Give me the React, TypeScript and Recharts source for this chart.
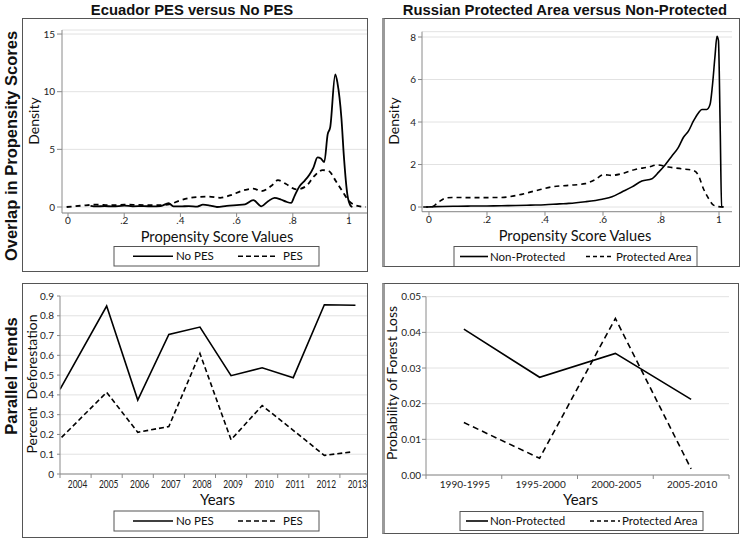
import React from "react";
import { LineChart, Line, XAxis, YAxis, CartesianGrid } from "recharts";

const FONT = "Lato, 'Open Sans', sans-serif";
const TITLE_FONT = "'Liberation Sans', Arial, sans-serif";

// ---------- Ecuador: propensity score densities ----------
const ecuadorNoPesScore = [0.08, 0.1, 0.13, 0.16, 0.2, 0.23, 0.27, 0.3, 0.33, 0.358, 0.375, 0.4, 0.43, 0.46, 0.48, 0.506, 0.53, 0.565, 0.6, 0.63, 0.659, 0.688, 0.712, 0.735, 0.759, 0.776, 0.794, 0.806, 0.824, 0.841, 0.859, 0.873, 0.888, 0.9, 0.912, 0.924, 0.933, 0.951, 0.959, 0.973, 0.982, 0.994, 1.006, 1.012];
const ecuadorNoPesDensity = [0.1, 0.05, 0.08, 0.05, 0.12, 0.06, 0.08, 0.05, 0.08, 0.33, 0.06, 0.05, 0.08, 0.04, 0.2, 0.12, 0.0, 0.1, 0.17, 0.23, 0.6, 0.06, 0.5, 0.8, 0.63, 0.46, 0.35, 0.95, 1.8, 2.25, 2.8, 3.4, 4.3, 4.2, 3.9, 6.3, 6.9, 11.5, 10.75, 7.7, 4.3, 1.1, 0.1, 0];
const ecuadorPesScore = [-0.005, 0.05, 0.1, 0.15, 0.2, 0.25, 0.3, 0.34, 0.364, 0.4, 0.447, 0.5, 0.541, 0.576, 0.624, 0.659, 0.688, 0.724, 0.747, 0.776, 0.812, 0.847, 0.876, 0.906, 0.929, 0.953, 0.976, 1.0, 1.024, 1.059];
const ecuadorPesDensity = [0, 0.12, 0.2, 0.15, 0.2, 0.18, 0.15, 0.17, 0.26, 0.58, 0.84, 0.9, 0.8, 1.0, 1.44, 1.6, 1.38, 1.84, 2.33, 2.0, 1.53, 1.8, 2.68, 3.2, 3.1, 2.25, 1.38, 0.52, 0.14, 0];

// ---------- Russia: propensity score densities ----------
const russiaNonProtScore = [-0.01, 0.02, 0.1, 0.2, 0.25, 0.3, 0.35, 0.4, 0.45, 0.482, 0.539, 0.597, 0.631, 0.665, 0.7, 0.734, 0.769, 0.792, 0.814, 0.837, 0.86, 0.877, 0.895, 0.912, 0.929, 0.941, 0.958, 0.969, 0.977, 0.986, 0.993, 0.998, 1.004, 1.009, 1.016];
const russiaNonProtDensity = [0, 0.02, 0.04, 0.05, 0.06, 0.07, 0.09, 0.11, 0.15, 0.17, 0.25, 0.37, 0.48, 0.71, 0.95, 1.22, 1.33, 1.64, 1.98, 2.39, 2.81, 3.27, 3.58, 4.05, 4.43, 4.59, 4.59, 4.82, 5.67, 7.07, 8.03, 7.84, 3.8, 0.02, 0];
const russiaProtScore = [-0.02, 0.01, 0.03, 0.057, 0.08, 0.15, 0.25, 0.31, 0.368, 0.425, 0.482, 0.539, 0.574, 0.602, 0.631, 0.665, 0.711, 0.757, 0.786, 0.826, 0.872, 0.912, 0.929, 0.946, 0.964, 0.981, 0.998, 1.016];
const russiaProtDensity = [0, 0.01, 0.2, 0.42, 0.45, 0.44, 0.45, 0.57, 0.77, 0.95, 1.02, 1.1, 1.3, 1.52, 1.49, 1.57, 1.77, 1.88, 1.98, 1.88, 1.8, 1.72, 1.49, 0.87, 0.4, 0.09, 0.02, 0];

// ---------- Ecuador: parallel trends ----------
const ecuadorYears = [2004, 2005, 2006, 2007, 2008, 2009, 2010, 2011, 2012, 2013];
const ecuadorNoPesYearPos = [2003.5, 2005, 2006, 2007, 2008, 2009, 2010, 2011, 2012, 2013];
const ecuadorNoPesDefor = [0.428, 0.849, 0.374, 0.706, 0.743, 0.497, 0.537, 0.487, 0.856, 0.853];
const ecuadorPesYearPos = [2003.55, 2005, 2006, 2007, 2008, 2009, 2010, 2011, 2012, 2012.85];
const ecuadorPesDefor = [0.185, 0.413, 0.211, 0.24, 0.609, 0.173, 0.346, 0.221, 0.094, 0.111];

// ---------- Russia: parallel trends ----------
const russiaPeriods = ["1990-1995", "1995-2000", "2000-2005", "2005-2010"];
const russiaNonProtLoss = [0.0409, 0.0274, 0.0341, 0.0212];
const russiaProtLoss = [0.0147, 0.0047, 0.0439, 0.0017];

const zip = (xs: number[], ys: number[]) => xs.map((x, i) => ({ x, y: ys[i] }));

const tickStyle = { fontSize: 10, fill: "#222", fontFamily: FONT };
const AXIS = "#8a8a8a";
const GRID = "#e2e2e2";

const propFmt = (v: number) => (v === 0 ? "0" : v === 1 ? "1" : v.toFixed(1).replace(/^0/, ""));

function Frame({ left, top, width, height, thickLeft, children }: any) {
  const lb = thickLeft ? 3 : 1;
  return (
    <div
      style={{
        position: "absolute",
        left,
        top,
        width,
        height,
        boxSizing: "border-box",
        border: "1px solid #555",
        borderLeft: thickLeft ? "3px solid #9a9a9a" : "1px solid #555",
        overflow: "hidden",
      }}
    >
      <div style={{ position: "absolute", left: -lb, top: -1 }}>{children}</div>
    </div>
  );
}

function EcuadorDensity() {
  return (
    <LineChart width={346} height={254} margin={{ top: 12, right: 1, left: 0, bottom: 0 }}>
      <CartesianGrid horizontal vertical={false} stroke={GRID} />
      <XAxis
        type="number"
        dataKey="x"
        domain={[-0.0214, 1.064]}
        ticks={[0, 0.2, 0.4, 0.6, 0.8, 1]}
        tickFormatter={propFmt}
        allowDataOverflow
        height={59}
        tickSize={4}
        tickMargin={0}
        stroke={AXIS}
        tick={tickStyle}
        interval={0}
      />
      <YAxis
        type="number"
        domain={[-0.52, 15.35]}
        ticks={[0, 5, 10, 15]}
        allowDataOverflow
        width={40}
        tickSize={5}
        tickMargin={2}
        stroke={AXIS}
        tick={tickStyle}
        interval={0}
      />
      <Line data={zip(ecuadorPesScore, ecuadorPesDensity)} dataKey="y" type="monotone" stroke="#000" strokeWidth={1.8} strokeDasharray="5 4" dot={false} isAnimationActive={false} />
      <Line data={zip(ecuadorNoPesScore, ecuadorNoPesDensity)} dataKey="y" type="monotone" stroke="#000" strokeWidth={1.8} dot={false} isAnimationActive={false} />
    </LineChart>
  );
}

function RussiaDensity() {
  return (
    <LineChart width={358} height={249} margin={{ top: 13.7, right: 8, left: 0, bottom: 0 }}>
      <CartesianGrid horizontal vertical={false} stroke={GRID} />
      <XAxis
        type="number"
        dataKey="x"
        domain={[-0.0241, 1.0448]}
        ticks={[0, 0.2, 0.4, 0.6, 0.8, 1]}
        tickFormatter={propFmt}
        allowDataOverflow
        height={55.3}
        tickSize={4}
        tickMargin={0}
        stroke={AXIS}
        tick={tickStyle}
        interval={0}
      />
      <YAxis
        type="number"
        domain={[-0.22, 8.25]}
        ticks={[0, 2, 4, 6, 8]}
        allowDataOverflow
        width={40}
        tickSize={4}
        tickMargin={2}
        stroke={AXIS}
        tick={tickStyle}
        interval={0}
      />
      <Line data={zip(russiaProtScore, russiaProtDensity)} dataKey="y" type="monotone" stroke="#000" strokeWidth={1.6} strokeDasharray="5 4" dot={false} isAnimationActive={false} />
      <Line data={zip(russiaNonProtScore, russiaNonProtDensity)} dataKey="y" type="monotone" stroke="#000" strokeWidth={1.6} dot={false} isAnimationActive={false} />
    </LineChart>
  );
}

const EC_BAND = 311 / ecuadorYears.length;
const ecuadorBoundaries = ecuadorYears.map((y) => y - 0.5).concat([ecuadorYears[ecuadorYears.length - 1] + 0.5]);

const EcuadorYearTick = (props: any) => {
  const { x, y, payload } = props;
  const yr = Math.round(payload.value + 0.5);
  if (!ecuadorYears.includes(yr)) return <g />;
  return (
    <text transform={`translate(${x + EC_BAND / 2 + 2},${y}) scale(0.8,1)`} x={0} y={0} dy="0.71em" textAnchor="middle" {...tickStyle} fontSize={10.5}>
      {yr}
    </text>
  );
};

function EcuadorTrends() {
  return (
    <LineChart width={352} height={255} margin={{ top: 13, right: 3, left: 0, bottom: 0 }}>
      <CartesianGrid horizontal vertical={false} stroke={GRID} />
      <XAxis
        type="number"
        dataKey="x"
        domain={[ecuadorBoundaries[0], ecuadorBoundaries[ecuadorBoundaries.length - 1]]}
        ticks={ecuadorBoundaries}
        allowDataOverflow
        height={64}
        tickSize={4}
        tickMargin={3}
        stroke={AXIS}
        tick={<EcuadorYearTick />}
        interval={0}
      />
      <YAxis
        type="number"
        domain={[0, 0.9]}
        ticks={[0, 0.1, 0.2, 0.3, 0.4, 0.5, 0.6, 0.7, 0.8, 0.9]}
        tickFormatter={(v: number) => (v === 0 ? "0" : v.toFixed(1))}
        allowDataOverflow
        width={38}
        tickSize={3}
        tickMargin={3}
        stroke={AXIS}
        tick={tickStyle}
        interval={0}
      />
      <Line data={zip(ecuadorNoPesYearPos, ecuadorNoPesDefor)} dataKey="y" type="linear" stroke="#000" strokeWidth={1.6} dot={false} isAnimationActive={false} />
      <Line data={zip(ecuadorPesYearPos, ecuadorPesDefor)} dataKey="y" type="linear" stroke="#000" strokeWidth={1.6} strokeDasharray="5 3" dot={false} isAnimationActive={false} />
    </LineChart>
  );
}

const RU_BAND = 303 / russiaPeriods.length;
const russiaRows = russiaPeriods.map((p, i) => ({ x: i, period: p, nonProt: russiaNonProtLoss[i], prot: russiaProtLoss[i] }));
const russiaBoundaries = russiaPeriods.map((_, i) => i - 0.5).concat([russiaPeriods.length - 0.5]);

const RussiaPeriodTick = (props: any) => {
  const { x, y, payload } = props;
  const idx = Math.round(payload.value + 0.5);
  if (idx < 0 || idx >= russiaPeriods.length) return <g />;
  return (
    <text x={x + RU_BAND / 2 + 1} y={y} dy="0.71em" textAnchor="middle" {...tickStyle}>
      {russiaPeriods[idx]}
    </text>
  );
};

function RussiaTrends() {
  return (
    <LineChart width={357} height={251} data={russiaRows} margin={{ top: 13.7, right: 10, left: 0, bottom: 0 }}>
      <CartesianGrid horizontal vertical={false} stroke={GRID} />
      <XAxis
        type="number"
        dataKey="x"
        domain={[russiaBoundaries[0], russiaBoundaries[russiaBoundaries.length - 1]]}
        ticks={russiaBoundaries}
        allowDataOverflow
        height={59}
        tickSize={4}
        tickMargin={2}
        stroke={AXIS}
        tick={<RussiaPeriodTick />}
        interval={0}
      />
      <YAxis
        type="number"
        domain={[0, 0.05]}
        ticks={[0, 0.01, 0.02, 0.03, 0.04, 0.05]}
        tickFormatter={(v: number) => v.toFixed(2)}
        allowDataOverflow
        width={44}
        tickSize={4}
        tickMargin={1}
        stroke={AXIS}
        tick={tickStyle}
        interval={0}
      />
      <Line dataKey="nonProt" type="linear" stroke="#000" strokeWidth={1.6} dot={false} isAnimationActive={false} />
      <Line dataKey="prot" type="linear" stroke="#000" strokeWidth={1.6} strokeDasharray="6 4" dot={false} isAnimationActive={false} />
    </LineChart>
  );
}

function LegendBox({ x, y, w, h, items }: any) {
  const cy = y + h / 2;
  return (
    <g>
      <rect x={x} y={y} width={w} height={h} fill="#fff" stroke="#555" strokeWidth={1} />
      {items.map((it: any, i: number) => (
        <g key={i}>
          <line x1={it.x1} x2={it.x2} y1={cy} y2={cy} stroke="#000" strokeWidth={1.6} strokeDasharray={it.dash} />
          <text x={it.tx} y={cy + 4} fontSize={11.5} fontFamily={FONT} fill="#111">
            {it.label}
          </text>
        </g>
      ))}
    </g>
  );
}

export default function App() {
  const axisTitle = { fontFamily: FONT, fill: "#111" } as const;
  return (
    <div style={{ position: "absolute", left: 0, top: 0, width: 745, height: 540, background: "#fff" }}>
      <Frame left={22} top={18} width={346} height={254}>
        <EcuadorDensity />
      </Frame>
      <Frame left={382} top={18} width={358} height={249} thickLeft>
        <RussiaDensity />
      </Frame>
      <Frame left={22} top={283} width={346} height={255}>
        <EcuadorTrends />
      </Frame>
      <Frame left={382} top={283} width={357} height={251} thickLeft>
        <RussiaTrends />
      </Frame>
      <svg width={745} height={540} style={{ position: "absolute", left: 0, top: 0, pointerEvents: "none" }}>
        <text x={192} y={14.5} textAnchor="middle" fontFamily={TITLE_FONT} fontWeight="bold" fontSize={14.8} fill="#111">
          Ecuador PES versus No PES
        </text>
        <text x={565} y={14.5} textAnchor="middle" fontFamily={TITLE_FONT} fontWeight="bold" fontSize={14.8} fill="#111">
          Russian Protected Area versus Non-Protected
        </text>
        <text transform="translate(17,146) rotate(-90)" textAnchor="middle" fontFamily={TITLE_FONT} fontWeight="bold" fontSize={16.5} fill="#111">
          Overlap in Propensity Scores
        </text>
        <text transform="translate(17,376) rotate(-90)" textAnchor="middle" fontFamily={TITLE_FONT} fontWeight="bold" fontSize={16.5} fill="#111">
          Parallel Trends
        </text>

        <text transform="translate(38.5,121) rotate(-90)" textAnchor="middle" fontSize={14} {...axisTitle}>
          Density
        </text>
        <text x={217} y={241.5} textAnchor="middle" fontSize={14.6} {...axisTitle}>
          Propensity Score Values
        </text>
        <text transform="translate(398.5,121) rotate(-90)" textAnchor="middle" fontSize={14} {...axisTitle}>
          Density
        </text>
        <text x={575} y={241} textAnchor="middle" fontSize={14.6} {...axisTitle}>
          Propensity Score Values
        </text>
        <text transform="translate(37,384) rotate(-90)" textAnchor="middle" fontSize={14} style={{ whiteSpace: "pre" }} {...axisTitle}>
          {"Percent  Deforestation"}
        </text>
        <text x={217.5} y={505} textAnchor="middle" fontSize={15} {...axisTitle}>
          Years
        </text>
        <text transform="translate(397,383) rotate(-90)" textAnchor="middle" fontSize={14} {...axisTitle}>
          Probability of Forest Loss
        </text>
        <text x={580.5} y={505} textAnchor="middle" fontSize={15} {...axisTitle}>
          Years
        </text>

        <LegendBox
          x={114}
          y={246.5}
          w={205}
          h={19.5}
          items={[
            { x1: 133, x2: 173, tx: 176, label: "No PES" },
            { x1: 238, x2: 278, tx: 283, label: "PES", dash: "5 3" },
          ]}
        />
        <LegendBox
          x={454}
          y={246.5}
          w={243}
          h={20}
          items={[
            { x1: 460, x2: 488, tx: 490, label: "Non-Protected" },
            { x1: 586, x2: 613, tx: 616, label: "Protected Area", dash: "4 3" },
          ]}
        />
        <LegendBox
          x={114}
          y={511}
          w={205}
          h={20}
          items={[
            { x1: 133, x2: 173, tx: 176, label: "No PES" },
            { x1: 238, x2: 278, tx: 283, label: "PES", dash: "5 3" },
          ]}
        />
        <LegendBox
          x={460}
          y={511.5}
          w={243}
          h={19}
          items={[
            { x1: 466, x2: 488, tx: 490, label: "Non-Protected" },
            { x1: 590, x2: 620, tx: 622, label: "Protected Area", dash: "4 3" },
          ]}
        />
      </svg>
    </div>
  );
}
